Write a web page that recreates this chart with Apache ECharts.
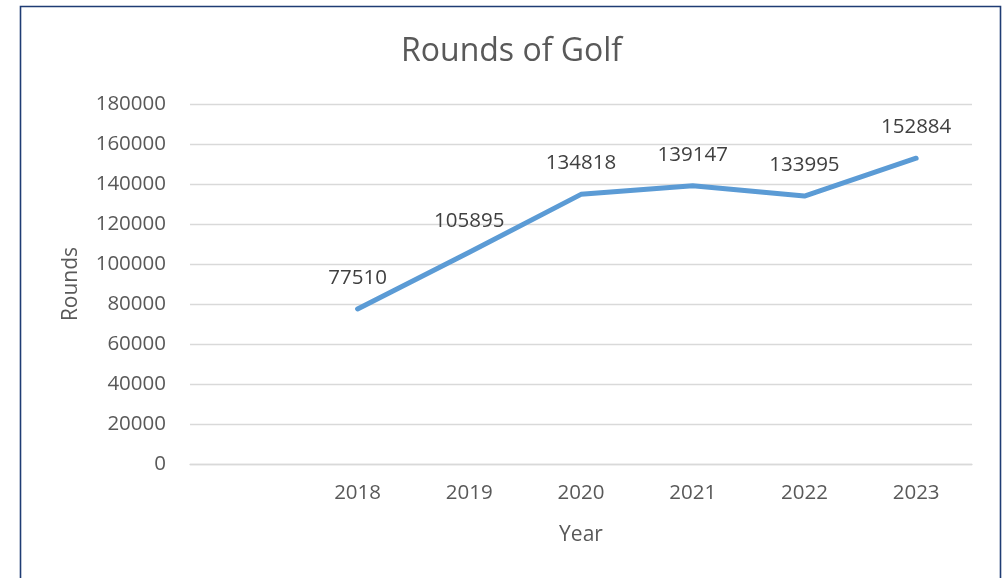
<!DOCTYPE html>
<html>
<head>
<meta charset="utf-8">
<script src="https://cdn.jsdelivr.net/npm/echarts@6/dist/echarts.min.js"></script>
<style>
html,body{margin:0;padding:0;background:#fff;}
#chart{width:1007px;height:578px;}
</style>
</head>
<body>
<div id="chart"></div>
<script>
var categories = ['', '2018', '2019', '2020', '2021', '2022', '2023'];
var rounds = [null, 77510, 105895, 134818, 139147, 133995, 152884];
var yTicks = { min: 0, max: 180000, interval: 20000 };

var FONT = 'Open Sans';
var chart = echarts.init(document.getElementById('chart'));
chart.setOption({
  backgroundColor: '#ffffff',
  animation: false,
  title: {
    text: 'Rounds of Golf',
    left: 396,
    top: 31,
    textStyle: { fontFamily: FONT, fontSize: 32, fontWeight: 'normal', color: '#595959' }
  },
  graphic: [{
    type: 'rect',
    shape: { x: 20.5, y: 6.5, width: 980, height: 600 },
    style: { fill: 'none', stroke: '#1f3c74', lineWidth: 1.6 },
    silent: true
  }],
  grid: { left: 190, right: 35, top: 104, bottom: 114 },
  xAxis: {
    type: 'category',
    data: categories,
    boundaryGap: true,
    name: 'Year',
    nameLocation: 'middle',
    nameGap: 61,
    nameTextStyle: { fontFamily: FONT, fontSize: 21, color: '#595959' },
    axisLine: { show: true, lineStyle: { color: '#d9d9d9', width: 1.3 } },
    axisTick: { show: false },
    axisLabel: { fontFamily: FONT, fontSize: 20.5, color: '#595959', margin: 19 }
  },
  yAxis: {
    type: 'value',
    min: yTicks.min,
    max: yTicks.max,
    interval: yTicks.interval,
    name: 'Rounds',
    nameLocation: 'middle',
    nameGap: 108,
    nameRotate: 90,
    nameTextStyle: { fontFamily: FONT, fontSize: 21, color: '#595959' },
    axisLine: { show: false },
    axisTick: { show: false },
    axisLabel: {
      fontFamily: FONT, fontSize: 20.5, color: '#595959', margin: 24,
      formatter: function (v) { return String(v); }
    },
    splitLine: { lineStyle: { color: '#d9d9d9', width: 1.3 } }
  },
  series: [{
    type: 'line',
    data: rounds,
    showSymbol: true,
    symbol: 'circle',
    symbolSize: 1,
    itemStyle: { color: 'rgba(0,0,0,0)', borderWidth: 0 },
    connectNulls: false,
    lineStyle: { color: '#5b9bd5', width: 5, cap: 'round', join: 'round' },
    label: {
      show: true,
      position: 'top',
      distance: 20,
      fontFamily: FONT,
      fontSize: 20.5,
      color: '#404040'
    }
  }]
});
</script>
</body>
</html>
